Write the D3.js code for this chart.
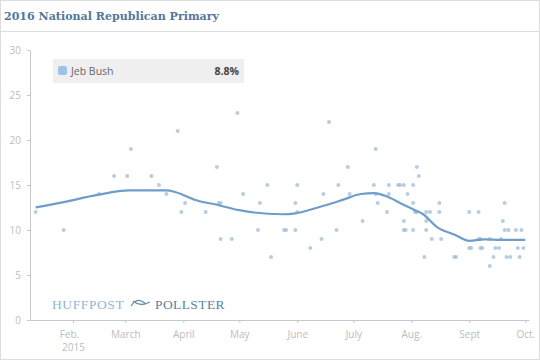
<!DOCTYPE html>
<html>
<head>
<meta charset="utf-8">
<script src="https://cdn.jsdelivr.net/npm/d3@7"></script>
<style>
  html, body { margin: 0; padding: 0; background: #fff; }
  svg { display: block; }
</style>
</head>
<body>
<svg id="chart" width="540" height="360"></svg>
<script>
// ---- data ----
const title = "2016 National Republican Primary";
const seriesName = "Jeb Bush";
const latestValue = "8.8%";
const yTicks = [0, 5, 10, 15, 20, 25, 30];
const xTickDates = ["2015-02-01","2015-03-01","2015-04-01","2015-05-01","2015-06-01","2015-07-01","2015-08-01","2015-09-01","2015-10-01"];
const xTickLabels = [["Feb.","2015"],["March"],["April"],["May"],["June"],["July"],["Aug."],["Sept"],["Oct."]];

// trend line (date, value)
const trendDates = ["2015-01-12","2015-01-27","2015-02-14","2015-03-03","2015-03-23","2015-03-28","2015-04-08","2015-04-19","2015-05-01","2015-05-24","2015-05-31","2015-06-12","2015-06-17","2015-06-26","2015-07-05","2015-07-12","2015-07-18","2015-07-27","2015-08-03","2015-08-07","2015-08-15","2015-08-24","2015-09-01","2015-09-09","2015-09-18","2015-10-01"];
const trendValues = [12.5,13.1,13.9,14.4,14.4,14.2,13.3,12.8,12.2,11.75,11.85,12.5,12.8,13.4,14.0,14.1,13.8,12.9,12.2,11.8,10.3,9.5,8.8,8.95,8.9,8.9];

// individual polls (date, value)
const pollDates = ["2015-01-12","2015-01-27","2015-02-15","2015-02-23","2015-03-02","2015-03-04","2015-03-15","2015-03-19","2015-03-23","2015-03-29","2015-03-31","2015-04-02","2015-04-13","2015-04-19","2015-04-20","2015-04-21","2015-04-21","2015-04-27","2015-04-30","2015-05-03","2015-05-11","2015-05-12","2015-05-16","2015-05-18","2015-05-25","2015-05-26","2015-05-31","2015-05-31","2015-06-01","2015-06-01","2015-06-08","2015-06-14","2015-06-15","2015-06-18","2015-06-22","2015-06-23","2015-06-28","2015-06-29","2015-07-06","2015-07-12","2015-07-13","2015-07-13","2015-07-14","2015-07-19","2015-07-20","2015-07-20","2015-07-25","2015-07-26","2015-07-28","2015-07-28","2015-07-28","2015-07-29","2015-07-30","2015-08-02","2015-08-02","2015-08-02","2015-08-03","2015-08-04","2015-08-04","2015-08-05","2015-08-08","2015-08-09","2015-08-09","2015-08-11","2015-08-09","2015-08-12","2015-08-16","2015-08-16","2015-08-17","2015-08-24","2015-08-25","2015-09-01","2015-09-02","2015-09-01","2015-09-06","2015-09-06","2015-09-07","2015-09-07","2015-09-08","2015-09-12","2015-09-12","2015-09-14","2015-09-15","2015-09-17","2015-09-18","2015-09-19","2015-09-20","2015-09-20","2015-09-22","2015-09-21","2015-09-23","2015-09-26","2015-09-29","2015-09-27","2015-09-30","2015-09-28"];
const pollValues = [12,10,14,16,16,19,16,15,14,21,12,13,12,17,13,13,9,9,23,14,10,13,15,7,10,10,10,13,15,12,8,9,14,22,10,15,17,14,11,15,19,14,13,12,15,14,15,15,15,11,10,10,14,15,13,10,12,12,17,16,7,11,12,12,10,9,13,12,9,7,7,8,8,12,12,9,9,8,8,9,6,7,8,8,9,11,13,10,10,7,7,10,10,8,8,7];

// ---- drawing ----
const parse = d3.utcParse("%Y-%m-%d");
const svg = d3.select("#chart");
const W = 540, H = 360;

// frame
svg.append("rect").attr("x", 0.5).attr("y", 0.5).attr("width", W - 1).attr("height", H - 1)
  .attr("fill", "#fff").attr("stroke", "#dcdcdc");
svg.append("line").attr("x1", 0).attr("x2", W).attr("y1", 31.5).attr("y2", 31.5).attr("stroke", "#dcdcdc");

svg.append("text").attr("x", 4).attr("y", 20)
  .attr("font-family", "'DejaVu Serif', serif").attr("font-weight", "bold").attr("font-size", 11.5)
  .attr("textLength", 215).attr("lengthAdjust", "spacingAndGlyphs")
  .attr("fill", "#52779c").text(title);

const x = d3.scaleUtc().domain([parse("2015-01-09"), parse("2015-10-03")]).range([30, 529]);
const y = d3.scaleLinear().domain([0, 30]).range([320, 50]);

const axisColor = "#c8c8c8", labelColor = "#bdbdbd";

// y axis
const gy = svg.append("g").attr("transform", "translate(30,0)")
  .call(d3.axisLeft(y).tickValues(yTicks).tickSize(3).tickPadding(6).tickSizeOuter(0));
gy.select(".domain").attr("stroke", axisColor);
gy.selectAll(".tick line").attr("stroke", axisColor);
gy.selectAll(".tick text").attr("fill", labelColor).attr("font-family", "'Open Sans', sans-serif").attr("font-size", 10);

// x axis
const tickDates = xTickDates.map(parse);
const gx = svg.append("g").attr("transform", "translate(0,320)")
  .call(d3.axisBottom(x).tickValues(tickDates).tickSize(3).tickSizeOuter(0).tickFormat(""));
gx.select(".domain").attr("stroke", axisColor);
gx.selectAll(".tick line").attr("stroke", axisColor);
gx.selectAll(".tick").each(function(d, i) {
  const t = d3.select(this).select("text")
    .attr("fill", labelColor).attr("font-family", "'Open Sans', sans-serif").attr("font-size", 10)
    .attr("y", 0).attr("dy", null);
  xTickLabels[i].forEach((s, j) => {
    t.append("tspan").attr("x", (i === 0 && j === 0) ? -4 : 0).attr("y", 18 + j * 13).text(s);
  });
});

// HuffPost Pollster logo
const logo = svg.append("g").attr("font-family", "'Liberation Serif', serif").attr("font-size", 13.5);
logo.append("text").attr("x", 52).attr("y", 309).attr("fill", "#8fb6d8").attr("letter-spacing", 0.6).text("HUFFPOST");
logo.append("path").attr("d", "M131,306 C136,298 141,300 145,303 M133,301 C139,306 144,305 150,302")
  .attr("fill", "none").attr("stroke", "#6a8bab").attr("stroke-width", 1.3);
logo.append("text").attr("x", 155).attr("y", 309).attr("fill", "#5f7f9f").attr("letter-spacing", 0.4).text("POLLSTER");

// polls
svg.append("g").selectAll("circle").data(pollDates.map((d, i) => [parse(d), pollValues[i]]))
  .join("circle")
  .attr("cx", d => x(d[0])).attr("cy", d => y(d[1])).attr("r", 2)
  .attr("fill", "#9ebcd8").attr("fill-opacity", 0.75);

// trend
const line = d3.line().x(d => x(d[0])).y(d => y(d[1])).curve(d3.curveMonotoneX);
svg.append("path").datum(trendDates.map((d, i) => [parse(d), trendValues[i]]))
  .attr("d", line).attr("fill", "none").attr("stroke", "#6e9dca").attr("stroke-width", 2.2);

// legend
const lg = svg.append("g");
lg.append("rect").attr("x", 53).attr("y", 59).attr("width", 191).attr("height", 24).attr("fill", "#efefef");
lg.append("rect").attr("x", 58).attr("y", 66).attr("width", 9).attr("height", 9).attr("rx", 2).attr("fill", "#9dc4e6");
lg.append("text").attr("x", 71).attr("y", 75).attr("font-family", "'Open Sans', sans-serif").attr("font-size", 10.5)
  .attr("fill", "#666").text(seriesName);
lg.append("text").attr("x", 239).attr("y", 75).attr("text-anchor", "end").attr("font-family", "'Open Sans', sans-serif")
  .attr("font-size", 10.5).attr("font-weight", "bold").attr("fill", "#444").text(latestValue);
</script>
</body>
</html>
